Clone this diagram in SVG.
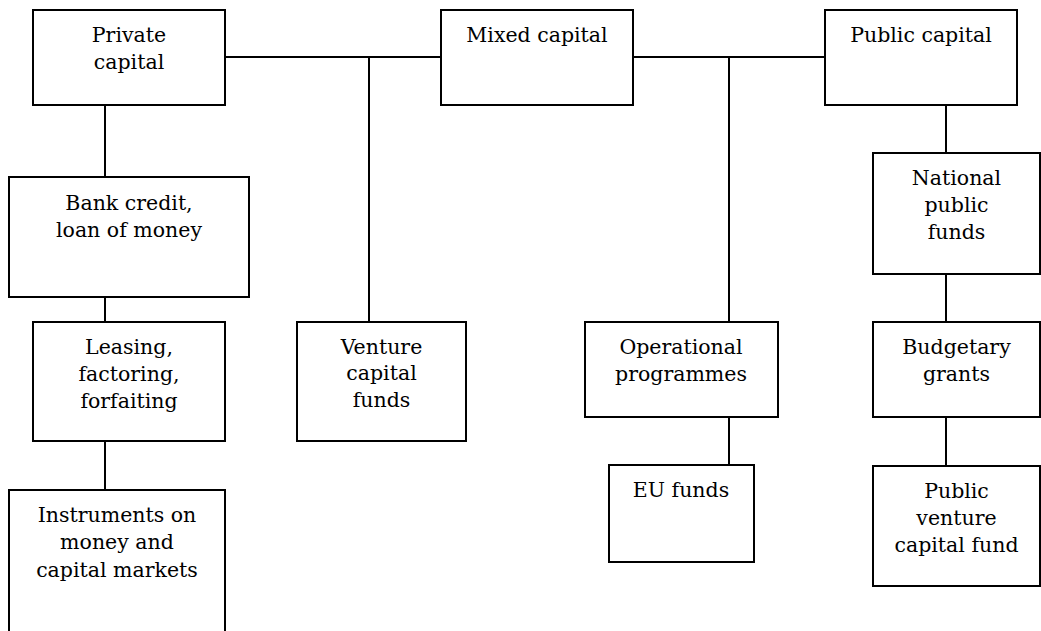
<svg xmlns="http://www.w3.org/2000/svg" width="1041" height="631" viewBox="0 0 1041 631">
<style>
  .box { fill: #ffffff; stroke: #000000; stroke-width: 2; }
  .conn { stroke: #000000; stroke-width: 2; fill: none; }
  text { font-family: "DejaVu Serif", "Liberation Serif", serif; font-size: 20.5px; fill: #000000; text-anchor: middle; }
</style>
<rect width="1041" height="631" fill="#ffffff"/>
<g id="connectors">
  <line class="conn" x1="225" y1="57" x2="441" y2="57"/>
  <line class="conn" x1="369" y1="57" x2="369" y2="322"/>
  <line class="conn" x1="633" y1="57" x2="825" y2="57"/>
  <line class="conn" x1="729" y1="57" x2="729" y2="322"/>
  <line class="conn" x1="105" y1="105" x2="105" y2="177"/>
  <line class="conn" x1="105" y1="297" x2="105" y2="322"/>
  <line class="conn" x1="105" y1="441" x2="105" y2="490"/>
  <line class="conn" x1="729" y1="417" x2="729" y2="465"/>
  <line class="conn" x1="946" y1="105" x2="946" y2="153"/>
  <line class="conn" x1="946" y1="274" x2="946" y2="322"/>
  <line class="conn" x1="946" y1="417" x2="946" y2="466"/>
</g>
<g id="private-capital">
  <rect class="box" x="33" y="10" width="192" height="95"/>
  <text x="129" y="42">Private</text>
  <text x="129" y="68.5">capital</text>
</g>
<g id="mixed-capital">
  <rect class="box" x="441" y="10" width="192" height="95"/>
  <text x="537" y="42">Mixed capital</text>
</g>
<g id="public-capital">
  <rect class="box" x="825" y="10" width="192" height="95"/>
  <text x="921" y="42">Public capital</text>
</g>
<g id="bank-credit">
  <rect class="box" x="9" y="177" width="240" height="120"/>
  <text x="129" y="209.5">Bank credit,</text>
  <text x="129" y="236.5">loan of money</text>
</g>
<g id="leasing">
  <rect class="box" x="33" y="322" width="192" height="119"/>
  <text x="129" y="354">Leasing,</text>
  <text x="129" y="381">factoring,</text>
  <text x="129" y="408">forfaiting</text>
</g>
<g id="instruments">
  <rect class="box" x="9" y="490" width="216" height="160"/>
  <text x="117" y="522">Instruments on</text>
  <text x="117" y="549">money and</text>
  <text x="117" y="576.5">capital markets</text>
</g>
<g id="venture-capital-funds">
  <rect class="box" x="297" y="322" width="169" height="119"/>
  <text x="381.5" y="353.5">Venture</text>
  <text x="381.5" y="380">capital</text>
  <text x="381.5" y="407">funds</text>
</g>
<g id="operational-programmes">
  <rect class="box" x="585" y="322" width="193" height="95"/>
  <text x="681" y="354">Operational</text>
  <text x="681" y="380.5">programmes</text>
</g>
<g id="eu-funds">
  <rect class="box" x="609" y="465" width="145" height="97"/>
  <text x="681" y="497">EU funds</text>
</g>
<g id="national-public-funds">
  <rect class="box" x="873" y="153" width="167" height="121"/>
  <text x="956.5" y="185">National</text>
  <text x="956.5" y="212">public</text>
  <text x="956.5" y="239">funds</text>
</g>
<g id="budgetary-grants">
  <rect class="box" x="873" y="322" width="167" height="95"/>
  <text x="956.5" y="354">Budgetary</text>
  <text x="956.5" y="380.5">grants</text>
</g>
<g id="public-venture-capital-fund">
  <rect class="box" x="873" y="466" width="167" height="120"/>
  <text x="956.5" y="497.5">Public</text>
  <text x="956.5" y="524.5">venture</text>
  <text x="956.5" y="552">capital fund</text>
</g>
</svg>
